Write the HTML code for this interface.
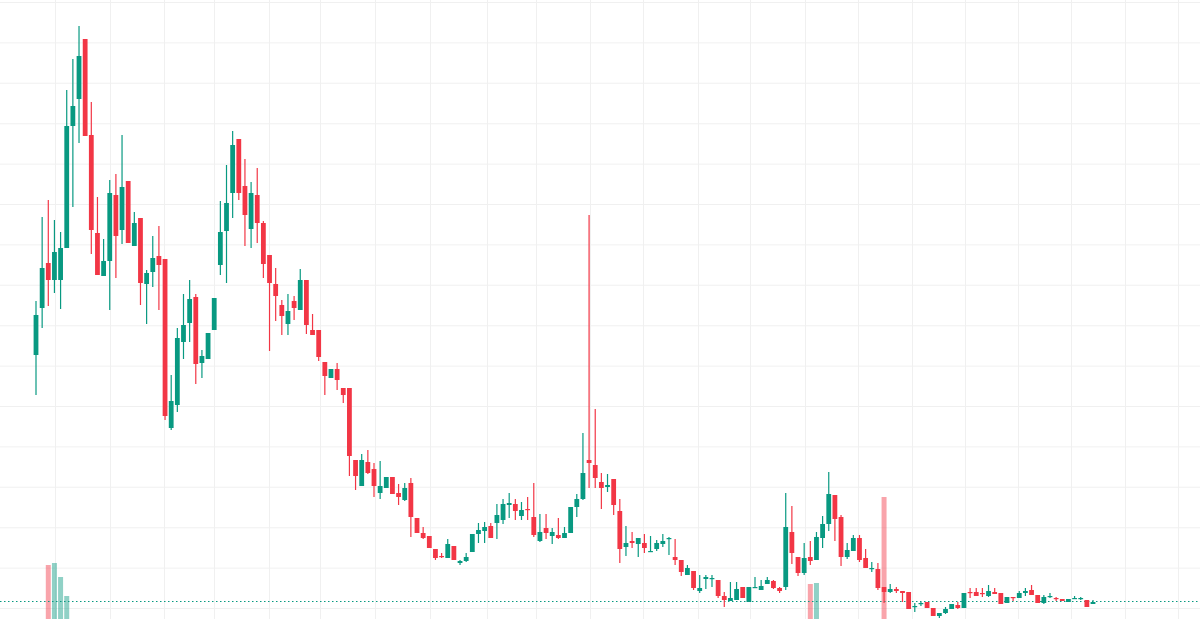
<!DOCTYPE html>
<html><head><meta charset="utf-8"><style>
html,body{margin:0;padding:0;background:#fff;width:1200px;height:619px;overflow:hidden;font-family:"Liberation Sans",sans-serif}
</style></head><body>
<svg id="chart" width="1200" height="619" viewBox="0 0 1200 619" xmlns="http://www.w3.org/2000/svg">
<g id="grid"></g>
<g id="volume"></g>
<line x1="0" x2="1200" y1="601.5" y2="601.5" stroke="#089981" stroke-width="1" stroke-dasharray="1.5,2.5"/>
<g id="candles"></g>
</svg>
<script>
const opens=[265,312,357,340,340,372,494,521,581,485,387,344,359,425,390,439,374,402,336,348,364,361,192,215,278,297,323,257,261,290,355,389,427,481,434,391,425,397,365,336,315,296,319,310,340,290,290,258,242,251,232,232,160,134,158,151,127,132,143,127,120,137,102,87,84,71,64,62,74,57,59,68,86,89,94,97,100,115,116,104,111,103,79,92,84,85,82,87,113,121,160,155,138,133,141,109,73,79,76,77,68,71,76,81,63,60,45,49,29,41,41,40,24,19,20,33,18,32,30,36,39,32,33,88,63,47,63,60,82,96,125,103,63,69,82,62,51.5,51,33,28,31,29,28,13,16,18,12,4,7,11,15,12,28,28,27,24,28,27,17,23,22,27,30,25,17,23,22,21,18,21,21,20,16];
const highs=[319,403,420,400,388,530,561,594,581,518,423,381,440,446,485,439,408,402,350,384,394,361,245,292,326,340,326,270,287,322,419,455,489,481,461,438,452,399,365,352,320,326,324,351,340,306,290,258,251,257,232,232,160,166,170,157,159,143,143,136,137,142,102,93,84,71,67,81,74,60,67,86,97,98,97,116,121,127,121,118,123,137,106,106,92,102,93,113,126,187,405,211,147,146,141,121,94,88,82,86,84,80,86,83,81,60,55,49,45,45,45,40,28,38,38,33,33,43,40,43,40,33,127,114,63,77,79,88,104,148,125,105,77,85,85,71,58,57,33,36,33,29,28,17,19,18,12,7,13,16,18,27,32,32,32,35,32,27,23,23,29,32,35,25,25,27,23,21,21,24,23,20,20];
const lows=[225,292,314,327,311,372,413,477,484,366,345,344,310,342,376,377,374,315,296,333,310,200,190,208,261,278,236,242,261,290,345,337,402,420,374,372,377,342,269,299,285,285,300,310,286,285,259,225,242,230,217,144,130,134,146,123,121,132,126,115,119,83,87,81,72,60,62,62,60,55,58,68,77,77,82,81,96,102,100,100,100,83,78,81,76,81,82,87,103,120,132,132,111,128,105,57,64,72,63,67,68,69,73,65,55,44,45,30,27,31,33,22,13,19,20,22,18,32,30,36,31,27,30,56,44,45,55,60,72,89,79,54,61,69,58,52,48,30,17,27,27,18,11,8,14,12,4,2,6,11,11,12,22,24,23,23,26,16,17,19,22,24,25,17,16,22,19,19,18,21,20,13,16];
const closes=[305,352,340,368,372,494,514,564,484,390,345,359,427,384,433,377,397,337,347,362,355,204,219,282,295,321,256,264,287,322,388,417,475,427,405,427,397,356,337,324,304,309,312,340,295,285,263,244,251,240,225,164,144,160,147,134,134,143,126,123,132,103,87,82,72,62,63,76,60,59,63,86,90,93,82,105,116,117,109,110,110,85,88,87,88,82,87,113,121,147,157,142,132,135,115,71,77,77,82,72,69,77,79,82,60,48,52,32,32,43,42,24,20,22,31,22,33,33,34,40,32,29,93,67,47,62,59,83,96,126,101,63,70,82,60,52,52,32,28,31,29,27,11,14,17,12,4,7,11,16,12,27,27,24,26,29,26,16,23,22,27,29,25,17,23,24,21,19,21,22,22,13,18];
const volIndex=[2,3,4,5,126,127,138];
const volValues=[54,56,42,23,35,36,122];

const X0=36, X1=1093, BASE=620;
const n=opens.length;
function xScale(i){return X0+i*(X1-X0)/(n-1);}
function yScale(v){return BASE-v;}
function vScale(v){return 619-v;}
const NS="http://www.w3.org/2000/svg";
const grid=document.getElementById('grid');
for(let k=0;k<16;k++){
  const l=document.createElementNS(NS,'line');
  const y=2.5+k*40.4;
  l.setAttribute('x1',0);l.setAttribute('x2',1200);l.setAttribute('y1',y);l.setAttribute('y2',y);
  l.setAttribute('stroke','#f0f0f0');l.setAttribute('stroke-width','1');
  
  
  grid.appendChild(l);
}
const vx=[55,110,164,214,269,320,375,430,487,536,590,643,698,750,805,858,912,965,1018,1071,1125,1178];
vx.forEach(x=>{
  const l=document.createElementNS(NS,'line');
  l.setAttribute('x1',x+.5);l.setAttribute('x2',x+.5);l.setAttribute('y1',0);l.setAttribute('y2',619);
  l.setAttribute('stroke','#f0f0f0');l.setAttribute('stroke-width','1');
  
  
  grid.appendChild(l);
});
const vol=document.getElementById('volume');
volIndex.forEach((idx,j)=>{
  const r=document.createElementNS(NS,'rect');
  const up=closes[idx]>=opens[idx];
  const top=vScale(volValues[j]);
  r.setAttribute('x',xScale(idx)-2.5);r.setAttribute('width',5);
  r.setAttribute('y',top);r.setAttribute('height',619-top);
  r.setAttribute('fill',up?'rgba(8,153,129,0.45)':'rgba(242,54,69,0.45)');
  
  
  vol.appendChild(r);
});
const cg=document.getElementById('candles');
for(let i=0;i<n;i++){
  const up=closes[i]>=opens[i];
  const col=up?'#089981':'#F23645';
  const x=xScale(i);
  const g=document.createElementNS(NS,'g');
  
  
  const w=document.createElementNS(NS,'line');
  w.setAttribute('x1',x);w.setAttribute('x2',x);
  w.setAttribute('y1',yScale(highs[i]));w.setAttribute('y2',yScale(lows[i]));
  w.setAttribute('stroke',col);w.setAttribute('stroke-width','1.2');
  
  
  g.appendChild(w);
  const b=document.createElementNS(NS,'rect');
  const t=yScale(Math.max(opens[i],closes[i]));
  const h=Math.max(1.2,Math.abs(opens[i]-closes[i]));
  b.setAttribute('x',x-2.4);b.setAttribute('width',4.8);
  b.setAttribute('y',t);b.setAttribute('height',h);
  b.setAttribute('fill',col);
  
  
  g.appendChild(b);
  cg.appendChild(g);
}
</script>
</body></html>
